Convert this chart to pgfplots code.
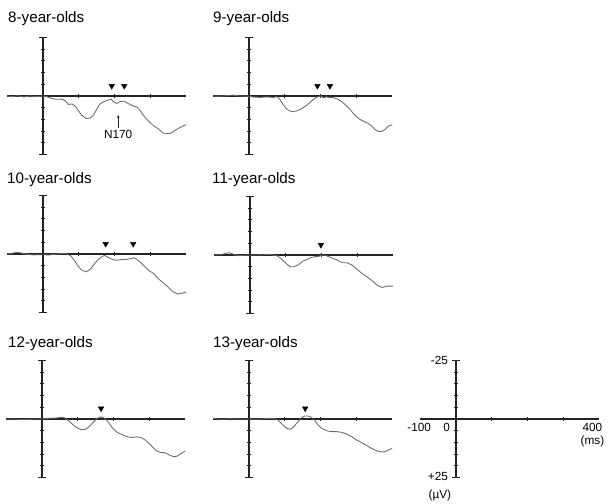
\documentclass[border=0pt]{standalone}
\usepackage{fontspec}
\setmainfont{Liberation Sans}
\usepackage{pgfplots}
\pgfplotsset{compat=1.18}
\usetikzlibrary{arrows.meta}
\definecolor{trace}{RGB}{105,105,105}
\definecolor{axc}{RGB}{35,35,35}
\pgfplotsset{erp/.style={
  anchor=origin, x=0.358pt, y=2.34pt, y dir=reverse,
  xmin=-100,xmax=400,ymin=-25,ymax=25,
  axis lines=middle, axis line style={-, axc, line width=1.2pt},
  xtick={100,200,300}, ytick={-20,-15,-10,-5,5,10,15,20},
  extra y ticks={-25,25},
  extra y tick style={major tick length=8pt},
  xticklabels={}, yticklabels={}, extra y tick labels={},
  tick align=center, major tick length=4.5pt,
  tick style={axc, line width=1pt},
  clip=false,
}}
\newcommand{\ttl}[1]{{\fontsize{15.2}{18}\selectfont #1}}
\newcommand{\sml}{\fontsize{11.8}{13}\selectfont}
\tikzset{trc/.style={trace, line width=0.85pt, no marks},
  tri/.style={only marks, mark=triangle*, mark size=3.2pt, mark options={rotate=180, fill=black, draw=black}}}
\begin{document}
\begin{tikzpicture}
\useasboundingbox (0,0) rectangle (612pt,-503pt);
\node[anchor=base west, inner sep=0] at (8pt,-23pt) {\ttl{8-year-olds}};
\node[anchor=base west, inner sep=0] at (213pt,-23pt) {\ttl{9-year-olds}};
\node[anchor=base west, inner sep=0] at (7pt,-183pt) {\ttl{10-year-olds}};
\node[anchor=base west, inner sep=0] at (212pt,-183pt) {\ttl{11-year-olds}};
\node[anchor=base west, inner sep=0] at (8pt,-347pt) {\ttl{12-year-olds}};
\node[anchor=base west, inner sep=0] at (213pt,-347pt) {\ttl{13-year-olds}};

% 8-year-olds
\begin{axis}[erp, at={(43pt,-96pt)}]
\addplot[trc] coordinates {(-100,0)(-86,0.3)(-72,-0.1)(-54,0.4)(-35,0)(-17,0.3)(0,0)(11,0.3)(25,1.1)(39,1.4)(53,1.3)(62,2.0)(71,3.6)(81,3.4)(90,4.3)(99,6.3)(108,8.2)(120,9.6)(131,9.5)(141,8.2)(150,5.7)(159,3.4)(169,2.4)(178,2.0)(190,1.3)(196,2.3)(206,3.2)(215,2.4)(226,2.2)(238,3.2)(252,4.3)(261,4.6)(270,6.0)(280,8.2)(294,10.6)(307,12.5)(321,13.9)(335,15.8)(349,16.1)(358,15.8)(372,14.4)(386,13.2)(400,12.2)};
\addplot[tri] coordinates {(192,-4.3)(227,-4.3)};
\draw[axc, line width=0.6pt, -{Stealth[length=3pt,width=2.5pt]}] (axis cs:210,13.5) -- (axis cs:210,8.1);
\node[inner sep=0] at (axis cs:210,16.4) {\sml N170};
\end{axis}

% 9-year-olds
\begin{axis}[erp, at={(249pt,-96pt)}]
\addplot[trc] coordinates {(-100,0)(-82,0.1)(-64,-0.1)(-45,-0.4)(-26,0)(0,0.1)(11,0.4)(30,0.6)(49,0.4)(67,0.6)(78,0.3)(86,1.4)(95,3.6)(106,5.7)(119,6.7)(133,6.4)(147,5.4)(161,4.0)(175,2.1)(184,1.0)(193,0.3)(200,0)(207,0.7)(217,0.4)(226,0.7)(235,0.7)(249,1.4)(259,2.4)(268,3.6)(282,5.7)(296,8.3)(310,10.0)(324,11.1)(333,11.7)(343,12.9)(352,14.3)(361,15.1)(371,15.1)(380,14.3)(389,12.9)(400,12.3)};
\addplot[tri] coordinates {(191,-4.3)(226,-4.3)};
\end{axis}

% 10-year-olds
\begin{axis}[erp, at={(43pt,-254pt)}]
\addplot[trc] coordinates {(-100,0)(-87,-0.3)(-73,-0.7)(-59,-0.4)(-45,0.1)(-26,0.4)(-12,0.3)(0,0.3)(16,0.4)(35,0.1)(53,-0.3)(67,0)(77,0.7)(86,2.4)(97,5.0)(109,7.0)(121,7.6)(133,6.4)(144,4.1)(156,2.1)(166,1.0)(172,0.6)(180,1.3)(191,2.1)(203,2.7)(217,2.4)(231,2.3)(245,2.0)(254,1.6)(263,2.4)(273,3.6)(282,5.0)(296,7.1)(310,8.4)(320,10.3)(334,12.1)(348,13.9)(362,16.0)(376,17.1)(390,16.7)(400,16.2)};
\addplot[tri] coordinates {(175,-4.3)(252,-4.3)};
\end{axis}

% 11-year-olds
\begin{axis}[erp, at={(250pt,-255pt)}]
\addplot[trc] coordinates {(-100,0)(-84,-0.1)(-70,-0.6)(-58,-1.0)(-47,-0.4)(-33,0.3)(-19,0.1)(0,0)(19,0)(37,-0.1)(51,-0.3)(65,0)(77,0.4)(89,1.9)(101,3.6)(112,5.0)(123,5.0)(136,4.1)(148,2.6)(159,1.9)(170,1.1)(182,0.7)(192,0.6)(201,-0.1)(210,0.1)(220,0.7)(229,1.3)(243,2.1)(257,3.3)(271,3.3)(285,4.3)(299,6.1)(313,7.9)(327,9.3)(341,11.0)(355,12.9)(369,13.9)(383,13.3)(400,13.3)};
\addplot[tri] coordinates {(198,-4.3)};
\end{axis}

% 12-year-olds
\begin{axis}[erp, at={(42pt,-419pt)}]
\addplot[trc] coordinates {(-100,0)(-81,0)(-63,0.1)(-44,0.3)(-26,0)(0,0)(20,-0.3)(39,-0.4)(53,-0.7)(62,-0.6)(71,0.3)(81,1.7)(94,3.4)(108,4.5)(120,4.5)(131,3.4)(143,1.4)(152,0)(161,-0.8)(169,-0.8)(178,0.1)(187,1.7)(196,3.7)(210,5.7)(224,6.7)(238,7.6)(252,7.9)(266,7.6)(280,8.1)(289,9.1)(303,11.0)(317,13.3)(331,14.3)(344,14.4)(356,15.4)(368,16.1)(377,15.9)(389,14.7)(400,13.7)};
\addplot[tri] coordinates {(165,-4.5)};
\end{axis}

% 13-year-olds
\begin{axis}[erp, at={(249pt,-419pt)}]
\addplot[trc] coordinates {(-100,-0.3)(-87,-0.1)(-73,0.1)(-54,-0.1)(-35,0)(0,0)(21,0.1)(39,-0.1)(58,-0.3)(75,-0.1)(84,0.9)(95,2.6)(106,4.0)(116,4.4)(125,3.3)(137,1.1)(147,-0.6)(156,-1.3)(165,-1.3)(175,-0.7)(184,0.7)(193,2.6)(203,4.0)(217,5.0)(231,5.4)(245,5.4)(259,5.7)(273,6.4)(287,7.6)(301,9.0)(315,10.1)(329,11.4)(343,12.6)(357,13.6)(371,14.1)(380,14.0)(389,13.3)(400,12.6)};
\addplot[tri] coordinates {(157,-4.5)};
\end{axis}

% scale
\begin{axis}[erp, at={(456pt,-419pt)}]
\node[anchor=east, inner sep=0] at (axis cs:-22,-25) {\sml -25};
\node[anchor=east, inner sep=0] at (axis cs:-22,24.5) {\sml +25};
\node[inner sep=0] at (axis cs:-45,32.5) {\sml (µV)};
\node[inner sep=0] at (axis cs:-103,3.6) {\sml -100};
\node[inner sep=0] at (axis cs:-26,3.6) {\sml 0};
\node[inner sep=0] at (axis cs:381,3.6) {\sml 400};
\node[inner sep=0] at (axis cs:381,9.5) {\sml (ms)};
\end{axis}
\end{tikzpicture}
\end{document}
